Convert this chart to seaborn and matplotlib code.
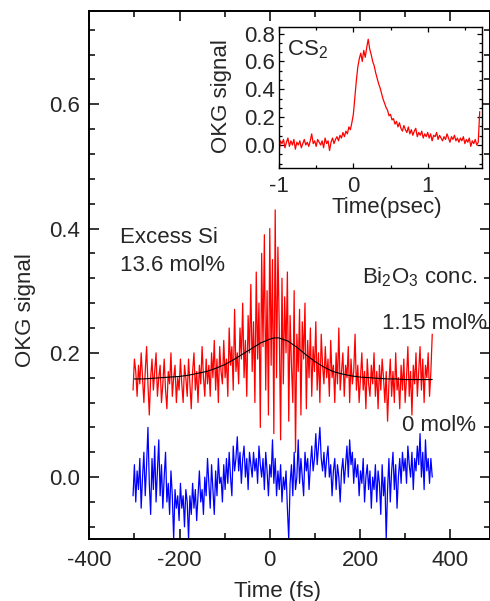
import matplotlib
matplotlib.use('Agg')
import matplotlib.pyplot as plt
import seaborn as sns
import numpy as np
from matplotlib.ticker import MultipleLocator, AutoMinorLocator

# ============================================================
# Data
# ============================================================
# main panel: time grid in fs, 3 fs step from -303 to 360
time_fs = np.arange(-303, 361, 3)

# Bi2O3 1.15 mol% (red)
sig_115 = [
    0.14, 0.19, 0.17, 0.13, 0.18, 0.15, 0.20, 0.16, 0.12, 0.17, 0.21, 0.15,
    0.10, 0.16, 0.19, 0.14, 0.17, 0.20, 0.13, 0.16, 0.18, 0.12, 0.15,
    0.19, 0.14, 0.11, 0.17, 0.15, 0.20, 0.13, 0.16, 0.18, 0.12, 0.16,
    0.14, 0.19, 0.15, 0.12, 0.18, 0.16, 0.13, 0.19, 0.15, 0.11, 0.17,
    0.20, 0.14, 0.17, 0.12, 0.18, 0.15, 0.21, 0.16, 0.13, 0.19, 0.15,
    0.18, 0.13, 0.20, 0.16, 0.22, 0.14, 0.19, 0.12, 0.21, 0.17, 0.15,
    0.22, 0.16, 0.19, 0.13, 0.24, 0.18, 0.21, 0.14, 0.27, 0.17, 0.20,
    0.15, 0.24, 0.19, 0.28, 0.16, 0.22, 0.13, 0.26, 0.20, 0.31, 0.17,
    0.25, 0.12, 0.33, 0.19, 0.28, 0.08, 0.36, 0.21, 0.39, 0.14, 0.30,
    0.10, 0.40, 0.18, 0.35, 0.07, 0.43, 0.16, 0.37, 0.24, 0.06, 0.32,
    0.15, 0.29, 0.20, 0.33, 0.09, 0.26, 0.18, 0.12, 0.30, 0.04, 0.23,
    0.17, 0.27, 0.10, 0.25, 0.19, 0.28, 0.11, 0.22, 0.16, 0.24, 0.13,
    0.21, 0.17, 0.25, 0.14, 0.20, 0.12, 0.23, 0.18, 0.15, 0.21, 0.16,
    0.19, 0.13, 0.22, 0.16, 0.18, 0.12, 0.20, 0.15, 0.24, 0.14, 0.17,
    0.20, 0.13, 0.18, 0.16, 0.21, 0.12, 0.19, 0.15, 0.17, 0.23, 0.14,
    0.18, 0.12, 0.16, 0.20, 0.14, 0.17, 0.11, 0.19, 0.15, 0.13, 0.18,
    0.15, 0.20, 0.13, 0.17, 0.11, 0.18, 0.14, 0.19, 0.16, 0.12, 0.17,
    0.09, 0.15, 0.19, 0.13, 0.17, 0.12, 0.20, 0.14, 0.16, 0.11, 0.18,
    0.14, 0.19, 0.12, 0.16, 0.21, 0.13, 0.17, 0.10, 0.18, 0.15, 0.20,
    0.13, 0.17, 0.21, 0.14, 0.19, 0.12, 0.18, 0.16, 0.20, 0.13, 0.17,
    0.23,
]

# Bi2O3 0 mol% (blue)
sig_0 = [
    -0.03, 0.02, -0.04, 0.01, -0.02, 0.03, -0.05, 0.00, 0.04, -0.03, 0.02, 0.08,
    -0.01, -0.06, 0.03, -0.02, 0.05, -0.04, 0.01, 0.06, -0.03, 0.02, -0.05,
    0.00, 0.04, -0.04, -0.01, -0.06, 0.01, -0.03, -0.10, -0.02, -0.05, -0.03,
    -0.07, -0.01, -0.05, -0.03, -0.08, -0.02, -0.04, -0.10, -0.03, -0.06, -0.01,
    -0.05, -0.02, -0.07, -0.03, 0.01, -0.04, -0.02, -0.06, 0.00, -0.03, 0.03,
    -0.01, -0.05, 0.02, -0.02, -0.06, 0.01, -0.03, 0.03, -0.01, 0.00, -0.04,
    0.02, -0.02, 0.03, -0.01, 0.04, 0.00, -0.03, 0.05, 0.01, 0.03, 0.065,
    0.01, 0.04, -0.01, 0.03, 0.05, 0.00, 0.03, -0.02, 0.04, 0.02, 0.00,
    0.04, 0.01, 0.03, -0.01, 0.05, 0.02, 0.00, 0.03, -0.02, 0.04, 0.01,
    -0.03, 0.02, 0.00, 0.06, -0.01, 0.03, -0.03, 0.01, -0.02, 0.02, -0.04,
    0.00, -0.02, 0.01, -0.05, -0.10, -0.01, 0.02, -0.03, 0.04, -0.02, 0.00,
    0.06, -0.01, 0.03, 0.00, -0.03, 0.04, 0.01, 0.03, -0.02, 0.02, 0.05,
    0.01, 0.03, 0.07, 0.02, 0.05, 0.08, 0.03, 0.01, 0.04, 0.00, 0.03,
    0.05, 0.00, 0.02, -0.03, 0.01, 0.03, -0.02, 0.02, 0.00, -0.04, 0.01,
    0.03, -0.01, 0.02, 0.05, 0.00, 0.06, 0.02, 0.04, -0.01, 0.03, 0.00,
    0.02, -0.03, 0.01, -0.01, 0.03, -0.04, 0.00, 0.02, -0.02, 0.01, -0.05,
    0.00, -0.02, 0.02, -0.04, 0.01, -0.01, -0.06, 0.02, -0.03, 0.00, -0.10,
    -0.02, 0.03, -0.04, 0.01, 0.04, -0.02, 0.02, -0.05, 0.00, 0.03, -0.01,
    0.04, 0.01, 0.03, -0.01, 0.05, 0.02, 0.00, 0.04, -0.02, 0.03, 0.01,
    0.05, 0.02, 0.07, 0.00, 0.04, -0.02, 0.06, 0.01, 0.03, -0.01, 0.03,
    0.00,
]

# fitted curve (black) through the 1.15 mol% trace
fit_t = [-300, -280, -260, -240, -220, -200, -180, -160, -140, -120, -100,
         -80, -60, -40, -20, 0, 10, 20, 40, 60, 80, 100, 120, 140, 160,
         180, 200, 220, 240, 260, 280, 300, 320, 340, 360]
fit_v = [0.158, 0.158, 0.159, 0.160, 0.161, 0.162, 0.164, 0.167, 0.170,
         0.175, 0.181, 0.189, 0.198, 0.207, 0.216, 0.222, 0.224, 0.224,
         0.219, 0.209, 0.197, 0.186, 0.177, 0.170, 0.166, 0.163, 0.161,
         0.160, 0.159, 0.158, 0.158, 0.157, 0.157, 0.157, 0.157]

# inset: CS2 reference, time in psec, 0.02 ps step
time_ps = np.round(np.arange(-1.00, 1.701, 0.02), 2)
sig_cs2 = [
    -0.05, 0.03, 0.01, 0.04, -0.02, 0.02, 0.05, -0.01, 0.03, 0.00, 0.04,
    -0.03, 0.02, 0.00, 0.03, -0.02, 0.01, 0.04, 0.00, 0.02, -0.01, 0.03,
    0.08, 0.01, 0.03, -0.01, 0.04, 0.02, 0.00, 0.03, -0.02, 0.05, 0.01,
    0.03, -0.04, 0.02, 0.05, 0.01, 0.04, 0.06, 0.03, 0.07, 0.05, 0.09,
    0.06, 0.10, 0.08, 0.13, 0.11, 0.16, 0.22, 0.34, 0.46, 0.56, 0.62,
    0.66, 0.60, 0.68, 0.63, 0.70, 0.76, 0.69, 0.65, 0.60, 0.57, 0.52,
    0.48, 0.44, 0.41, 0.37, 0.33, 0.30, 0.27, 0.25, 0.21, 0.22, 0.18,
    0.19, 0.15, 0.17, 0.13, 0.16, 0.12, 0.10, 0.14, 0.11, 0.09, 0.13,
    0.08, 0.11, 0.07, 0.10, 0.12, 0.06, 0.09, 0.07, 0.10, 0.05, 0.08,
    0.06, 0.09, 0.05, 0.08, 0.03, 0.07, 0.06, 0.09, 0.04, 0.07, 0.05,
    0.03, 0.06, 0.04, 0.08, 0.05, 0.02, 0.06, 0.04, 0.07, 0.03, 0.05,
    0.02, 0.05, 0.03, 0.06, 0.01, 0.04, 0.02, 0.05, -0.01, 0.03, 0.01,
    0.04, 0.00, 0.02, 0.24,
]

# ============================================================
# Style
# ============================================================
sns.set_style('ticks')
plt.rcParams['font.family'] = ['Liberation Sans', 'DejaVu Sans']
plt.rcParams['mathtext.fontset'] = 'custom'
plt.rcParams['mathtext.rm'] = 'Liberation Sans'
plt.rcParams['mathtext.it'] = 'Liberation Sans:italic'
plt.rcParams['axes.unicode_minus'] = False
FS = 16

fig = plt.figure(figsize=(4.90, 6.01), dpi=100)

# ============================================================
# Main panel
# ============================================================
ax = fig.add_axes([0.1822, 0.1027, 0.8178, 0.8790])
sns.lineplot(x=time_fs, y=sig_115, color='#ff0000', lw=0.9, ax=ax)
sns.lineplot(x=fit_t, y=fit_v, color='black', lw=0.8, ax=ax)
sns.lineplot(x=time_fs, y=sig_0, color='#0000ff', lw=0.9, ax=ax)

ax.set_xlim(-400, 488)
ax.set_ylim(-0.1, 0.75)
ax.xaxis.set_major_locator(MultipleLocator(200))
ax.xaxis.set_minor_locator(MultipleLocator(100))
ax.yaxis.set_major_locator(MultipleLocator(0.2))
ax.yaxis.set_minor_locator(AutoMinorLocator(5))
ax.yaxis.set_major_formatter(lambda v, p: f'{v:.1f}')
ax.tick_params(which='both', direction='in', top=True, right=True,
               labelsize=FS, width=1.1, color='black')
ax.tick_params(which='major', length=7)
ax.tick_params(which='minor', length=4)
ax.tick_params(axis='x', pad=8)
ax.tick_params(axis='y', pad=6.5)
for s in ax.spines.values():
    s.set_linewidth(1.4)
    s.set_color('black')

ax.set_xlabel('Time (fs)', fontsize=FS)
ax.set_ylabel('OKG signal', fontsize=FS)
ax.xaxis.set_label_coords(0.4697, -0.079)
ax.yaxis.set_label_coords(-0.134, 0.433)

ax.text(-332, 0.376, 'Excess Si', fontsize=FS, va='baseline')
ax.text(-332, 0.331, '13.6 mol%', fontsize=FS, va='baseline')
ax.text(204, 0.3116, r'Bi$_\mathregular{2}$O$_\mathregular{3}$ conc.',
        fontsize=FS, va='baseline')
ax.text(248, 0.2376, '1.15 mol%', fontsize=FS, va='baseline')
ax.text(292, 0.074, '0 mol%', fontsize=FS, va='baseline')

# ============================================================
# Inset: CS2
# ============================================================
axi = fig.add_axes([0.5694, 0.7205, 0.4137, 0.2351])
sns.lineplot(x=time_ps, y=sig_cs2, color='#ff0000', lw=0.9, ax=axi)
axi.set_xlim(-1.0, 1.727)
axi.set_ylim(-0.165, 0.85)
axi.xaxis.set_major_locator(MultipleLocator(1))
axi.xaxis.set_minor_locator(MultipleLocator(0.5))
axi.yaxis.set_major_locator(MultipleLocator(0.2))
axi.yaxis.set_minor_locator(AutoMinorLocator(3))
axi.yaxis.set_major_formatter(lambda v, p: f'{v:.1f}')
axi.tick_params(which='both', direction='in', top=True, right=True,
                labelsize=FS, width=0.9, color='black')
axi.tick_params(which='major', length=3.5)
axi.tick_params(which='minor', length=2)
axi.tick_params(axis='x', pad=6)
axi.tick_params(axis='y', pad=3)
for s in axi.spines.values():
    s.set_linewidth(1.0)
    s.set_color('black')

axi.set_xlabel('Time(psec)', fontsize=FS)
axi.set_ylabel('OKG signal', fontsize=FS)
axi.xaxis.set_label_coords(0.533, -0.205)
axi.yaxis.set_label_coords(-0.234, 0.51)
axi.text(-0.896, 0.645, r'CS$_\mathregular{2}$', fontsize=FS, va='baseline')

plt.savefig('out.png', dpi=100)
plt.close()
